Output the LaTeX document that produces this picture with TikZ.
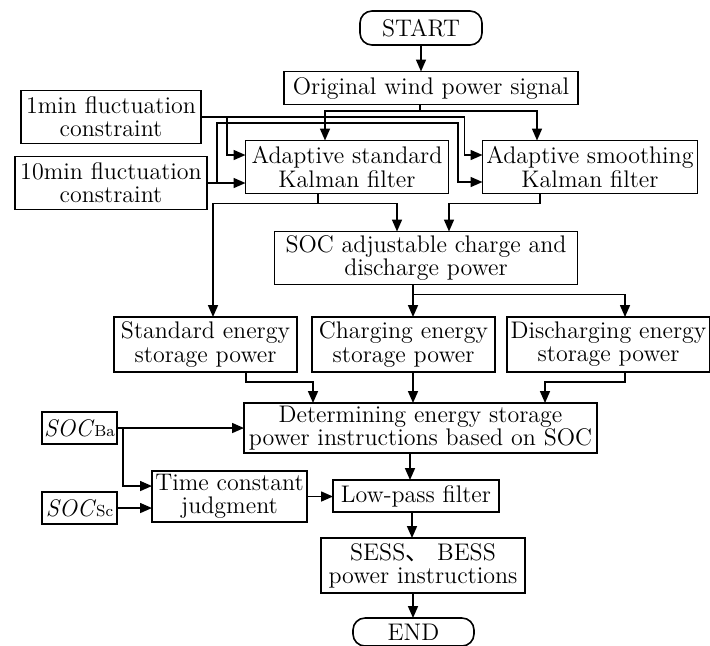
\documentclass[tikz,border=0pt]{standalone}
\usepackage{fontspec}
\newfontfamily\cjk{Noto Sans CJK SC}
\usetikzlibrary{calc,arrows.meta}

\begin{document}
\begin{tikzpicture}[x=0.5pt,y=-0.5pt,every node/.style={draw,outer sep=0pt,line width=0.8pt,align=center,inner sep=1pt,font=\fontsize{12}{11.6}\selectfont}]
	\tikzstyle{arr}=[line width=0.8pt,-{Triangle[length=6pt,width=5pt]}]
	\tikzstyle{line}=[line width=0.8pt]
	\tikzstyle{term}=[rounded corners=6pt]
	\useasboundingbox (0,0) rectangle (710,645);
	
	\node (start) [term,minimum width=61pt,minimum height=17pt] at (421,28) {START};				% Anfang
	\node (wind) [minimum width=147pt,minimum height=16.5pt] at (431,88) {Original wind power signal};
	
	\node (c1) [minimum width=90pt,minimum height=26.5pt] at (111,117) {1min fluctuation\\constraint};
	\node (c10) [minimum width=96pt,minimum height=26.5pt] at (111,183) {10min fluctuation\\constraint};
	\node (askf) [minimum width=101.5pt,minimum height=26.5pt] at (347,167) {Adaptive standard\\Kalman filter};
	\node (aksf) [minimum width=107.5pt,minimum height=26.5pt] at (590,167) {Adaptive smoothing\\Kalman filter};
	
	\node (soc) [minimum width=151.5pt,minimum height=26.5pt] at (426,258) {SOC adjustable charge and\\discharge power};
	
	\node (sesp) [minimum width=91.5pt,minimum height=27.5pt] at (205.5,344.5) {Standard energy\\storage power};
	\node (cesp) [minimum width=91.5pt,minimum height=27.5pt] at (403.5,344.5) {Charging energy\\storage power};
	\node (desp) [minimum width=101.5pt,minimum height=27.5pt] at (608.5,344.5) {Discharging energy\\storage power};
	
	\node (det) [minimum width=176.5pt,minimum height=25pt] at (420.5,428) {Determining energy storage\\power instructions based on SOC};
	\node (socba) [minimum width=37.5pt,minimum height=16pt] at (79.5,428) {\textit{SOC}{\footnotesize Ba}};
	\node (socsc) [minimum width=37.5pt,minimum height=16pt] at (79.5,508) {\textit{SOC}{\footnotesize Sc}};
	\node (tcj) [minimum width=77.5pt,minimum height=25.5pt] at (229.5,496.5) {Time constant\\judgment};
	\node (lpf) [minimum width=83pt,minimum height=16pt] at (416,496) {Low-pass filter};
	\node (sess) [minimum width=102pt,minimum height=27.5pt] at (423,565.5) {SESS{\cjk 、} BESS\\power instructions};
	\node (end) [term,minimum width=60.5pt,minimum height=14pt] at (413.5,632) {END};				% Ende
	
	\draw [arr] (start.south) -- (start.south |- wind.north);
	\coordinate (wj) at (420,111);
	\draw [line] (wj |- wind.south) -- (wj);
	\draw [arr] (wj) -| ($(askf.north)+(-22,0)$);
	\draw [arr] (wj) -| ($(aksf.north)+(-53,0)$);
	
	% Schwankungsgrenzen
	\draw [arr] (c1.east) -| ($(aksf.west)+(-18,-12)$) -- ($(aksf.west)+(0,-12)$);
	\coordinate (b1) at (227,117);
	\draw [arr] (b1) |- ($(askf.west)+(0,-12)$);
	\draw [arr] (c10.east) -- (c10.east -| askf.west);
	\coordinate (b10) at (217,183);
	\draw [arr] (b10) |- (458,123) |- ($(aksf.west)+(0,15)$);
	
	\draw [line] ($(askf.south)+(-29,0)$) -- ++(0,10) coordinate (j1);
	\draw [arr] (j1) -| ($(sesp.north)+(7.5,0)$);
	\draw [arr] (j1) -| ($(soc.north)+(-29,0)$);
	\draw [arr] ($(aksf.south)+(-50,0)$) -- ++(0,10) -| ($(soc.north)+(23,0)$);
	
	\draw [line] ($(soc.south)+(-13,0)$) -- ++(0,10) coordinate (j2);
	\draw [arr] (j2) -- ($(cesp.north)+(9.5,0)$);
	\draw [arr] (j2) -| ($(desp.north)+(16.5,0)$);
	
	\draw [arr] ($(sesp.south)+(40.5,0)$) -- ++(0,10) -| ($(det.north)+(-107.5,0)$);
	\draw [arr] ($(cesp.south)+(9.5,0)$) -- ($(det.north)+(-7.5,0)$);
	\draw [arr] ($(desp.south)+(16.5,0)$) -- ++(0,10) -| ($(det.north)+(124.5,0)$);
	
	% SOC Eingaenge
	\draw [arr] (socba.east) -- (socba.east -| det.west);
	\coordinate (b2) at (123,428);
	\draw [arr] (b2) |- ($(tcj.west)+(0,-10.5)$);
	\draw [arr] (socsc.east) -- (socsc.east -| tcj.west);
	\draw [arr] (tcj.east) -- (tcj.east -| lpf.west);
	
	\draw [arr] ($(det.south)+(-10.5,0)$) -- ($(lpf.north)+(-6,0)$);
	\draw [arr] ($(lpf.south)+(-4,0)$) -- ($(sess.north)+(-11,0)$);
	\draw [arr] ($(sess.south)+(-10,0)$) -- ($(end.north)+(-0.5,0)$);
\end{tikzpicture}
\end{document}
